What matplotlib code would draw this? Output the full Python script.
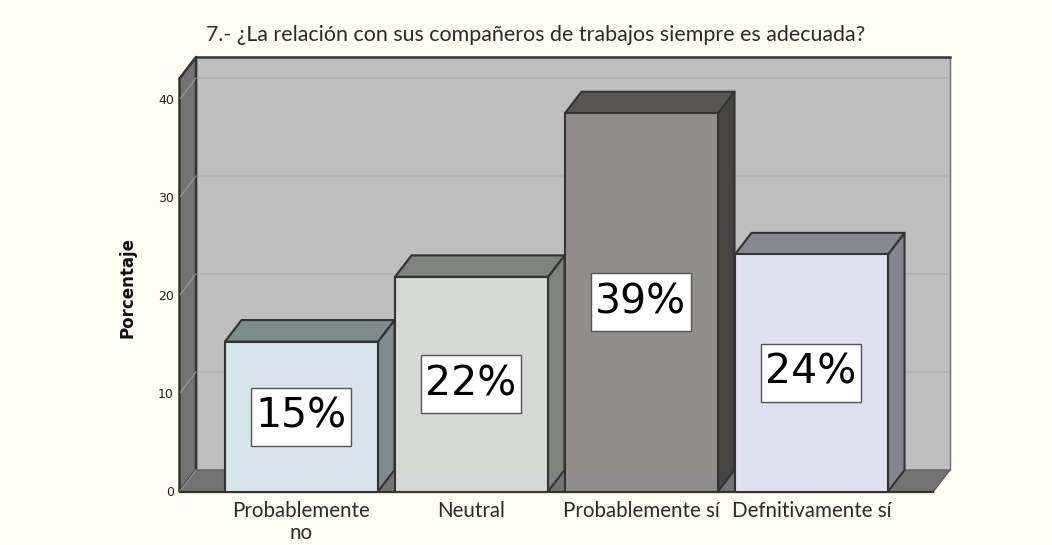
import matplotlib
matplotlib.use("Agg")
import matplotlib.pyplot as plt
from matplotlib.patches import Polygon, Rectangle

categories = ["Probablemente\nno", "Neutral", "Probablemente sí", "Defnitivamente sí"]
values = [15.3, 21.9, 38.6, 24.2]
percent_labels = ["15%", "22%", "39%", "24%"]
front_colors = ["#D5E5E9", "#D6D8D6", "#918D8C", "#E0E0F0"]
dark_colors = ["#7D8C8C", "#7F827F", "#585654", "#888890"]
side_colors = ["#7D8C8C", "#7F827F", "#464442", "#848490"]
y_ticks = [0, 10, 20, 30, 40]
title = "7.- ¿La relación con sus compañeros de trabajos siempre es adecuada?"
y_title = "Porcentaje"

W, H = 1052, 545
BG = "#FFFDF3"
EDGE = "#333333"
fig = plt.figure(figsize=(W / 100, H / 100), dpi=100, facecolor=BG)
left, right, bottom, top = 179.5, 950, 491.5, 57
ax = fig.add_axes([left / W, 1 - bottom / H, (right - left) / W, (bottom - top) / H])
ax.set_facecolor("none")
px_x = 170.0
px_y = 9.8
ax.set_xlim((left - 301.5) / px_x, (right - 301.5) / px_x)
ax.set_ylim(0, (bottom - top) / px_y)
dx = 16.5 / px_x
dy = 21.5 / px_y
bw = 153 / px_x
box_w = 100 / px_x
box_h = 58 / px_y
box_shift = -1 / px_x
x0, x1 = ax.get_xlim()
y1 = ax.get_ylim()[1]
xf = x1 - dx
yf = y1 - dy

def poly(pts, fc, z=1, lw=1.5, ec=EDGE):
    ax.add_patch(Polygon(pts, closed=True, fc=fc, ec=ec, lw=lw, zorder=z, clip_on=False, joinstyle="round"))

poly([(x0 + dx, dy), (x1, dy), (x1, y1), (x0 + dx, y1)], "#BEBEBE", 1, 1.0, "#6A6A6A")
ax.plot([x0 + dx, x1], [y1, y1], color="#3A3A3A", lw=1.8, zorder=1.2, clip_on=False)
poly([(x0, 0), (x0 + dx, dy), (x0 + dx, y1), (x0, yf)], "#737373", 2, 1.8)
poly([(x0, 0), (xf, 0), (x1, dy), (x0 + dx, dy)], "#737373", 2, 0.8, "#555555")
ax.plot([x0, xf], [0, 0], color=EDGE, lw=1.6, zorder=3, clip_on=False)

for t in y_ticks[1:]:
    ax.plot([x0 + dx, x1], [t + dy, t + dy], color="#B2B2B2", lw=1.2, zorder=1.5)
    ax.plot([x0, x0 + dx], [t, t + dy], color="#989898", lw=0.8, zorder=2.5)
ax.plot([x0, x0 + dx], [0, dy], color="#989898", lw=0.8, zorder=2.5)

for i, v in enumerate(values):
    a, b = i - bw / 2, i + bw / 2
    z = 5 + i
    poly([(b, 0), (b + dx, dy), (b + dx, v + dy), (b, v)], side_colors[i], z)
    poly([(a, v), (b, v), (b + dx, v + dy), (a + dx, v + dy)], dark_colors[i], z)
    ax.add_patch(Rectangle((a, 0), bw, v, fc=front_colors[i], ec=EDGE, lw=1.5, zorder=z + 0.1, clip_on=False))
    ax.add_patch(Rectangle((i + box_shift - box_w / 2, v / 2 - box_h / 2), box_w, box_h, fc="white", ec="#555555",
                           lw=1, zorder=z + 0.2))
    ax.text(i + box_shift, v / 2, percent_labels[i], ha="center", va="center", fontsize=29.5, color="black",
            family="DejaVu Sans", zorder=z + 0.3)

ax.set_xticks(range(len(categories)))
ax.set_xticklabels(categories, family="Lato", fontsize=14.8, color="#2A2A2A", linespacing=1.1)
ax.set_yticks(y_ticks)
ax.set_yticklabels([str(t) for t in y_ticks], family="DejaVu Sans", fontsize=9, color="#222222")
ax.tick_params(axis="x", length=0, pad=7)
ax.tick_params(axis="y", length=0, pad=4)
for s in ax.spines.values():
    s.set_visible(False)

fig.text(128 / W, 1 - 288 / H, y_title, rotation=90, ha="center", va="center",
         family="DejaVu Sans", fontweight="bold", fontsize=12, color="#111111")
fig.text(536 / W, 1 - 35 / H, title, ha="center", va="center",
         family="Lato", fontsize=15.4, color="#2A2A2A")

fig.savefig("out.png", dpi=100, facecolor=BG)
